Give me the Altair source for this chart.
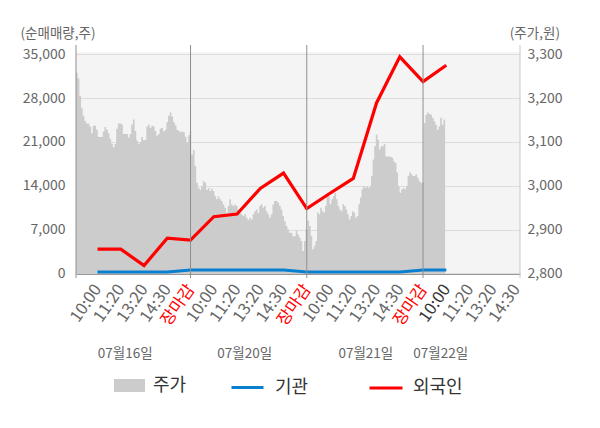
import json
import altair as alt
import pandas as pd

# ---------------- data ----------------
# 주가 (원), sampled uniformly across each session
price_d1 = [3258, 3245, 3205, 3177, 3160, 3148, 3142, 3142, 3135, 3120, 3137, 3137, 3128, 3112,
            3111, 3111, 3124, 3134, 3128, 3120, 3107, 3096, 3088, 3095, 3130, 3142, 3142, 3140,
            3118, 3118, 3118, 3110, 3118, 3140, 3151, 3125, 3103, 3096, 3100, 3111, 3104, 3105,
            3135, 3140, 3132, 3137, 3135, 3125, 3114, 3118, 3130, 3132, 3124, 3128, 3145, 3160,
            3167, 3158, 3145, 3138, 3128, 3125, 3122, 3124, 3122, 3112, 3100, 3115, 3124]
price_d2 = [3071, 3082, 3045, 3007, 2995, 2991, 2999, 3010, 3007, 2991, 2995, 2988, 2993, 2988,
            2976, 2969, 2976, 2969, 2965, 2957, 2950, 2938, 2954, 2969, 2957, 2954, 2957, 2954,
            2946, 2937, 2935, 2931, 2935, 2927, 2922, 2927, 2923, 2935, 2942, 2946, 2938, 2954,
            2957, 2950, 2954, 2942, 2935, 2927, 2935, 2957, 2965, 2965, 2961, 2954, 2946, 2931,
            2919, 2908, 2901, 2893, 2893, 2885, 2885, 2897, 2889, 2882, 2874, 2851, 2874, 2901]
price_d3 = [2920, 2908, 2886, 2855, 2863, 2874, 2939, 2935, 2950, 2942, 2939, 2954, 2976, 2976,
            2958, 2969, 2976, 2984, 2969, 2954, 2946, 2942, 2958, 2954, 2946, 2935, 2923, 2931,
            2942, 2939, 2927, 2931, 2958, 2973, 2992, 2999, 2995, 2999, 2995, 2999, 3022, 3060,
            3090, 3117, 3105, 3083, 3090, 3090, 3095, 3067, 3067, 3067, 3066, 3064, 3056, 3052,
            3030, 2999, 2984, 2992, 2995, 2992, 2999, 3022, 3031, 3026, 3022, 3023, 3026, 3018,
            3011, 3007, 3007]
price_d4 = [3143, 3162, 3167, 3164, 3162, 3155, 3147, 3139, 3128, 3136, 3155, 3139, 3151, 3151]
price_days = [price_d1, price_d2, price_d3, price_d4]
# session extent on the tick index scale (tick i = i-th time label)
session_spans = [(-0.925, 3.97), (4.03, 8.95), (9.03, 13.95), (14.03, 14.95)]

# 순매매량 (주) at each time label
inst = [220, 220, 220, 220, 540, 540, 540, 540, 540, 220, 220, 220, 220, 220, 540, 540]      # 기관
foreign = [3870, 3870, 1250, 5630, 5300, 9050, 9470, 13580, 16030, 10350, 12800, 15180,
           27230, 34590, 30650, 33250]                                                      # 외국인

tick_labels = ["10:00", "11:20", "13:20", "14:30", "장마감",
               "10:00", "11:20", "13:20", "14:30", "장마감",
               "10:00", "11:20", "13:20", "14:30", "장마감",
               "10:00", "11:20", "13:20", "14:30"]
date_labels = ["07월16일", "07월20일", "07월21일", "07월22일"]
date_pos = [1.17, 6.31, 11.52, 14.74]
day_breaks = [4, 9, 14]

X_MIN, X_MAX = -0.925, 18.17
Y_LEFT = [-100, 35370]
Y_RIGHT = [2798.6, 3305.2]
left_ticks = [0, 7000, 14000, 21000, 28000, 35000]
right_ticks = [2800, 2900, 3000, 3100, 3200, 3300]

FONT = "Noto Sans CJK KR"
W, H = 444, 222

# ---------------- tables ----------------
rows = []
for vals, (a, b) in zip(price_days, session_spans):
    n = len(vals)
    for i, v in enumerate(vals):
        rows.append({"t": a + (b - a) * i / (n - 1), "price": v, "s": "주가"})
price_df = pd.DataFrame(rows)
inst_df = pd.DataFrame({"t": list(range(len(inst))), "v": inst, "s": "기관"})
for_df = pd.DataFrame({"t": list(range(len(foreign))), "v": foreign, "s": "외국인"})
breaks_df = pd.DataFrame({"t": [X_MIN] + day_breaks})
right_df = pd.DataFrame({"t": [X_MAX]})

close_idx = [i for i, l in enumerate(tick_labels) if l == "장마감"]
current_idx = len(foreign) - 1

x_scale = alt.Scale(domain=[X_MIN, X_MAX], nice=False, zero=False)
labels_js = json.dumps(tick_labels, ensure_ascii=False)
dates_js = json.dumps(date_labels, ensure_ascii=False)
dates_pos_js = json.dumps(date_pos)

time_axis = alt.Axis(
    orient="bottom",
    values=list(range(len(tick_labels))),
    labelExpr=f"{labels_js}[datum.value]",
    labelAngle=-55, labelAlign="right", labelBaseline="middle",
    labelFontSize=16.5, labelPadding=12, labelOverlap=False, labelFlush=False,
    labelColor={"condition": [
        {"test": f"indexof({json.dumps(close_idx)}, datum.value) >= 0", "value": "#ff0000"},
        {"test": f"datum.value == {current_idx}", "value": "#333333"}],
        "value": "#666666"},
    ticks=False, grid=False, domain=True, domainColor="#999999", title=None,
)

date_axis = alt.Axis(
    orient="bottom",
    values=date_pos,
    labelExpr=f"{dates_js}[indexof({dates_pos_js}, datum.value)]",
    labelAngle=0, labelAlign="center", labelBaseline="middle",
    labelFontSize=13.5, labelColor="#666666", labelPadding=79,
    labelOverlap=False, labelFlush=False,
    ticks=False, grid=False, domain=False, title=None,
)

area = alt.Chart(price_df).mark_area(interpolate="step-after").encode(
    x=alt.X("t:Q", scale=x_scale, axis=time_axis),
    y=alt.Y("price:Q", scale=alt.Scale(domain=Y_RIGHT, nice=False, zero=False),
            axis=alt.Axis(orient="right", values=right_ticks, format=",.0f", grid=False,
                          ticks=False, domain=False, labelFontSize=14, labelColor="#666666",
                          labelPadding=7, title="(주가,원)", titleAngle=0, titleAlign="left",
                          titleBaseline="middle", titleX=-10.7, titleY=-18.7,
                          titleFontSize=13.5, titleFontWeight="normal", titleColor="#666666")),
    y2=alt.datum(Y_RIGHT[0]),
    fill=alt.Fill("s:N", scale=alt.Scale(domain=["주가"], range=["#cccccc"]),
                  legend=alt.Legend(orient="none", legendX=38, legendY=318, title=None,
                                    symbolType="M-1,-0.42L1,-0.42L1,0.42L-1,0.42Z",
                                    symbolSize=961, symbolStrokeWidth=0,
                                    labelFontSize=18, labelColor="#333333", labelOffset=8,
                                    padding=0)),
)

blue = alt.Chart(inst_df).mark_line(strokeWidth=3).encode(
    x=alt.X("t:Q", scale=x_scale, axis=None),
    y=alt.Y("v:Q", scale=alt.Scale(domain=Y_LEFT, nice=False, zero=False),
            axis=alt.Axis(orient="left", values=left_ticks, format=",.0f", grid=True,
                          gridColor="#dddddd", ticks=False, domain=False, labelFontSize=14,
                          labelColor="#666666", labelPadding=11, title="(순매매량,주)",
                          titleAngle=0, titleAlign="left", titleBaseline="middle",
                          titleX=-56, titleY=-18.7, titleFontSize=13.5,
                          titleFontWeight="normal", titleColor="#666666")),
    stroke=alt.Stroke("s:N", scale=alt.Scale(domain=["기관"], range=["#0a7fd0"]),
                      legend=alt.Legend(orient="none", legendX=154, legendY=318, title=None,
                                        symbolType="stroke", symbolSize=1024,
                                        symbolStrokeWidth=3, labelFontSize=18,
                                        labelColor="#333333", labelOffset=10, padding=0)),
)

red = alt.Chart(for_df).mark_line(strokeWidth=3.2).encode(
    x=alt.X("t:Q", scale=x_scale, axis=None),
    y=alt.Y("v:Q", scale=alt.Scale(domain=Y_LEFT, nice=False, zero=False), axis=None),
    color=alt.Color("s:N", scale=alt.Scale(domain=["외국인"], range=["#ff0000"]),
                    legend=alt.Legend(orient="none", legendX=292, legendY=318, title=None,
                                      symbolType="stroke", symbolSize=1089,
                                      symbolStrokeWidth=3, labelFontSize=18,
                                      labelColor="#333333", labelOffset=9, padding=0)),
)

breaks = alt.Chart(breaks_df).mark_rule(color="#8f8f8f", strokeWidth=1).encode(
    x=alt.X("t:Q", scale=x_scale, axis=date_axis),
    y=alt.value(-7), y2=alt.value(H + 4),
)
right_edge = alt.Chart(right_df).mark_rule(color="#c8c8c8", strokeWidth=1).encode(
    x=alt.X("t:Q", scale=x_scale, axis=None),
    y=alt.value(-7), y2=alt.value(H + 4),
)

chart = alt.layer(area, blue, red, breaks, right_edge).resolve_scale(
    y="independent"
).resolve_axis(x="independent").properties(
    width=W, height=H,
    autosize=alt.AutoSizeParams(type="none"),
    padding={"left": 68, "top": 44, "right": 72, "bottom": 146},
).configure(font=FONT).configure_view(stroke=None, fill="#f4f4f4")

chart.save("out.html", embed_options={"renderer": "svg", "actions": False})
